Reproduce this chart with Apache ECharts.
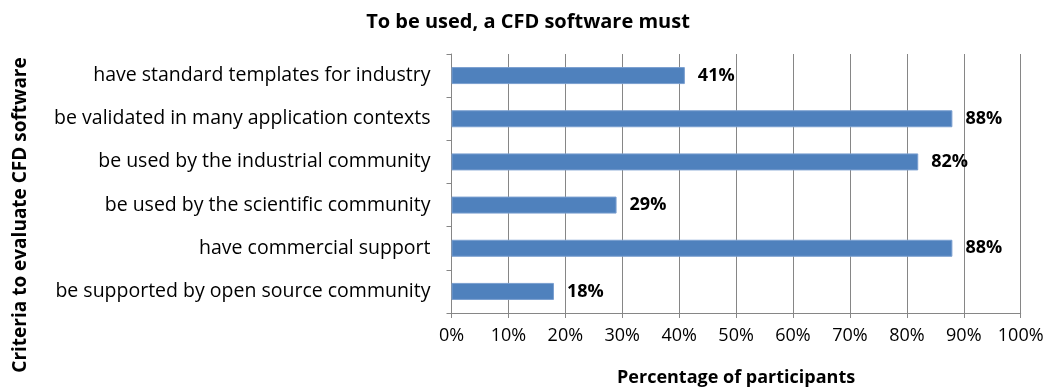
<!DOCTYPE html>
<html>
<head>
<meta charset="utf-8">
<style>
  html, body { margin: 0; padding: 0; background: #fff; }
  #chart { width: 1047px; height: 388px; }
</style>
<script src="https://cdn.jsdelivr.net/npm/echarts@6/dist/echarts.min.js"></script>
</head>
<body>
<div id="chart"></div>
<script>
// Criteria listed bottom-to-top, as the category axis draws them
const criteria = [
  'be supported by open source community',
  'have commercial support',
  'be used by the scientific community',
  'be used by the industrial community',
  'be validated in many application contexts',
  'have standard templates for industry'
];
const participantShare = [18, 88, 29, 82, 88, 41];
const percentTicks = [0, 10, 20, 30, 40, 50, 60, 70, 80, 90, 100];

const chart = echarts.init(document.getElementById('chart'));
const font = '"Open Sans", "Noto Sans", sans-serif';

chart.setOption({
  animation: false,
  title: {
    text: 'To be used, a CFD software must',
    left: 523,
    top: 7,
    textAlign: 'center',
    textStyle: { fontFamily: font, fontSize: 20, fontWeight: 'bold', color: '#000' }
  },
  // vertical axis title, sitting a little below the plot's middle
  graphic: [{
    type: 'text',
    x: 21,
    y: 215,
    rotation: Math.PI / 2,
    style: {
      text: 'Criteria to evaluate CFD software',
      fontFamily: font,
      fontSize: 19,
      fontWeight: 'bold',
      fill: '#000',
      align: 'center',
      verticalAlign: 'middle'
    }
  }],
  grid: {
    left: 451.5, right: 26.3, top: 54, bottom: 75,
    containLabel: false,
    outerBoundsMode: 'none'
  },
  xAxis: {
    type: 'value',
    min: percentTicks[0],
    max: percentTicks[percentTicks.length - 1],
    interval: 10,
    name: 'Percentage of participants',
    nameLocation: 'middle',
    nameGap: 56,
    nameTextStyle: { fontFamily: font, fontSize: 18, fontWeight: 'bold', color: '#000' },
    axisLine: { show: true, lineStyle: { color: '#868686', width: 1 } },
    axisTick: { show: true, length: 5, lineStyle: { color: '#868686' } },
    axisLabel: { formatter: '{value}%', fontFamily: font, fontSize: 18, color: '#000', margin: 14 },
    splitLine: { show: true, lineStyle: { color: '#868686', width: 1 } }
  },
  yAxis: {
    type: 'category',
    data: criteria,
    axisLine: { show: true, lineStyle: { color: '#868686', width: 1 } },
    axisTick: { show: true, length: 5, lineStyle: { color: '#868686' } },
    axisLabel: { fontFamily: font, fontSize: 19.5, color: '#000', margin: 21 }
  },
  series: [{
    type: 'bar',
    data: participantShare,
    barWidth: 17,
    itemStyle: { color: '#4F81BD', borderColor: '#7A9FD0', borderWidth: 1 },
    label: {
      show: true,
      position: 'right',
      distance: 13,
      formatter: '{c}%',
      fontFamily: font,
      fontSize: 18,
      fontWeight: 'bold',
      color: '#000'
    }
  }]
});
</script>
</body>
</html>
